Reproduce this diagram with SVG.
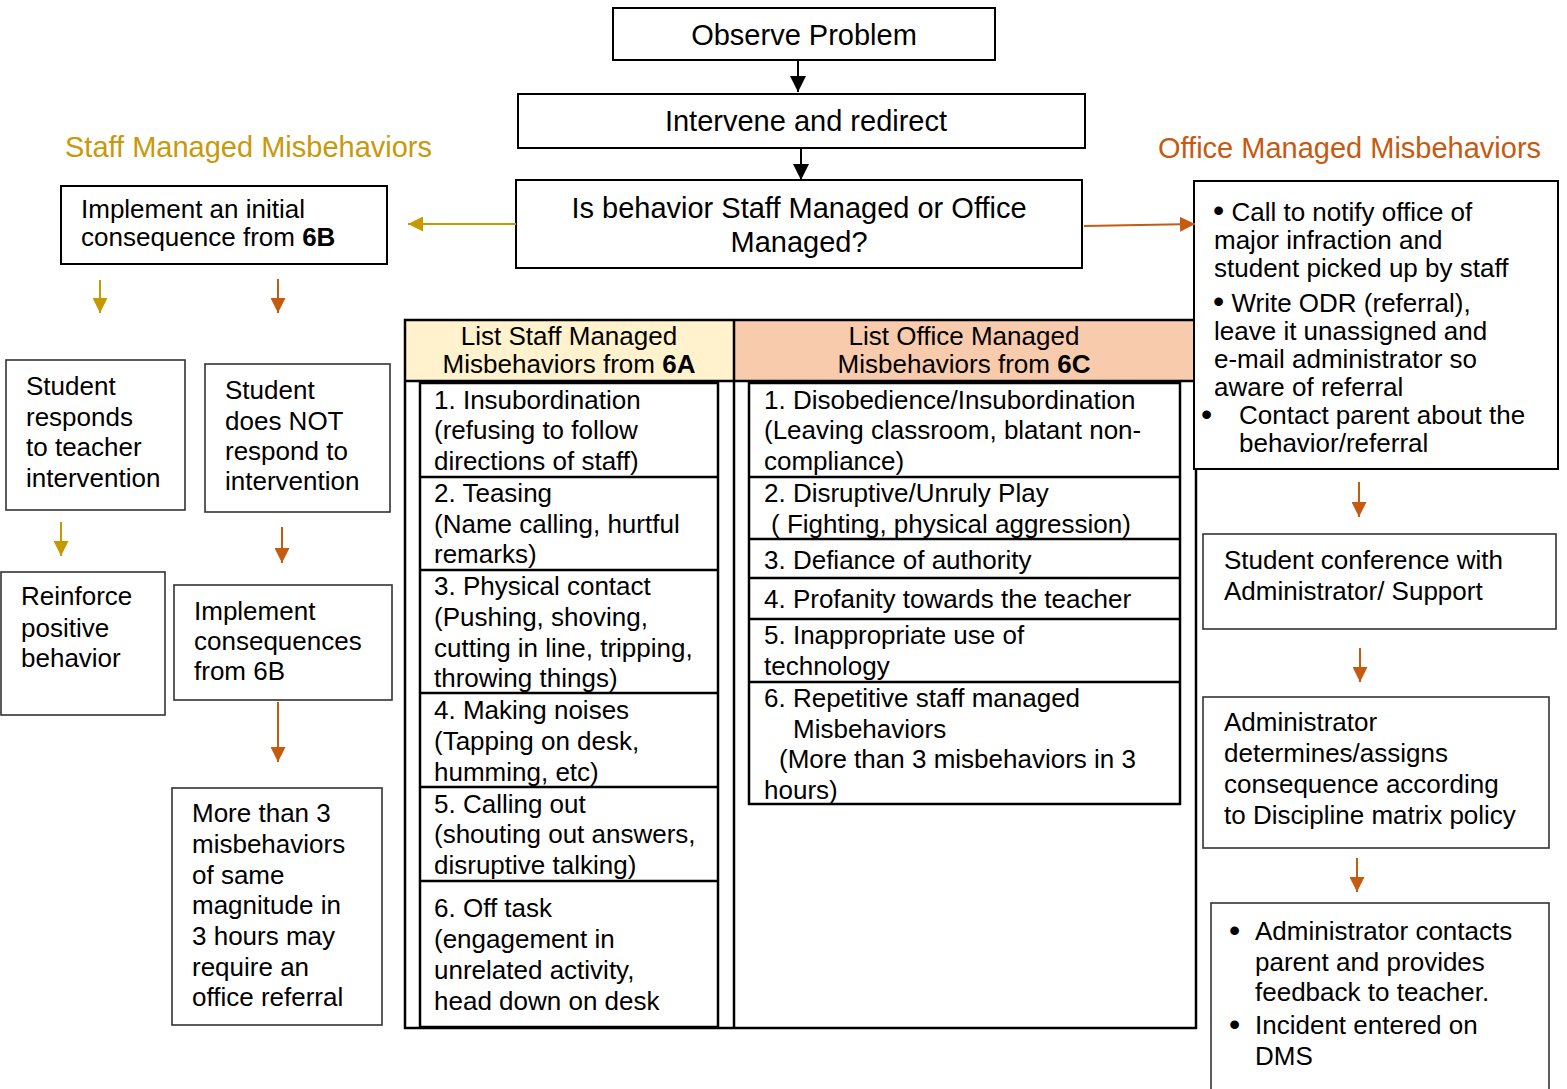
<svg xmlns="http://www.w3.org/2000/svg" width="1567" height="1089" viewBox="0 0 1567 1089">
<style>
text{font-family:"Liberation Sans",Arial,sans-serif;fill:#000;}
.t29{font-size:29px;}
.t26{font-size:26px;}
.mid{text-anchor:middle;}
.b{font-weight:bold;}
.bul{font-size:32px;}
.box{fill:#fff;stroke:#000;stroke-width:2;}
.sbox{fill:#fff;stroke:#333;stroke-width:1.6;}
.tl{fill:none;stroke:#000;stroke-width:2.5;}
.gold{stroke:#C49A00;stroke-width:2;fill:none;}
.orng{stroke:#C55A11;stroke-width:2;fill:none;}
.blk{stroke:#000;stroke-width:2;fill:none;}
</style>
<defs>
<marker id="mb" viewBox="0 0 14 14" refX="14" refY="7" markerWidth="16" markerHeight="16" markerUnits="userSpaceOnUse" orient="auto"><path d="M0,0L14,7L0,14z" fill="#000"/></marker>
<marker id="mg" viewBox="0 0 14 14" refX="14" refY="7" markerWidth="15" markerHeight="15" markerUnits="userSpaceOnUse" orient="auto"><path d="M0,0L14,7L0,14z" fill="#C49A00"/></marker>
<marker id="mo" viewBox="0 0 14 14" refX="14" refY="7" markerWidth="15" markerHeight="15" markerUnits="userSpaceOnUse" orient="auto"><path d="M0,0L14,7L0,14z" fill="#C55A11"/></marker>
</defs>

<text x="65" y="157" class="t29" style="fill:#C8990A">Staff Managed Misbehaviors</text>
<text x="1158" y="158" class="t29" style="fill:#C55A11">Office Managed Misbehaviors</text>

<g id="observe">
<rect class="box" x="613" y="8" width="382" height="52"/>
<text class="t29 mid" x="804" y="45">Observe Problem</text>
</g>
<g id="intervene">
<rect class="box" x="518" y="94" width="567" height="54"/>
<text class="t29 mid" x="806" y="131">Intervene and redirect</text>
</g>
<g id="decision">
<rect class="box" x="516" y="180" width="566" height="88"/>
<text class="t29 mid" x="799" y="218">Is behavior Staff Managed or Office</text>
<text class="t29 mid" x="799" y="252">Managed?</text>
</g>

<g id="initial">
<rect class="box" x="61" y="186" width="326" height="78"/>
<text class="t26" x="81" y="218">Implement an initial</text>
<text class="t26" x="81" y="246">consequence from <tspan class="b">6B</tspan></text>
</g>
<g id="responds">
<rect class="sbox" x="6" y="360" width="179" height="150"/>
<text class="t26" x="26" y="395">Student</text>
<text class="t26" x="26" y="426">responds</text>
<text class="t26" x="26" y="456">to teacher</text>
<text class="t26" x="26" y="487">intervention</text>
</g>
<g id="notrespond">
<rect class="sbox" x="205" y="364" width="185" height="148"/>
<text class="t26" x="225" y="399">Student</text>
<text class="t26" x="225" y="430">does NOT</text>
<text class="t26" x="225" y="460">respond to</text>
<text class="t26" x="225" y="490">intervention</text>
</g>
<g id="reinforce">
<rect class="sbox" x="1" y="572" width="164" height="143"/>
<text class="t26" x="21" y="605">Reinforce</text>
<text class="t26" x="21" y="637">positive</text>
<text class="t26" x="21" y="667">behavior</text>
</g>
<g id="implement">
<rect class="sbox" x="174" y="585" width="218" height="115"/>
<text class="t26" x="194" y="620">Implement</text>
<text class="t26" x="194" y="650">consequences</text>
<text class="t26" x="194" y="680">from 6B</text>
</g>
<g id="morethan">
<rect class="sbox" x="172" y="788" width="210" height="237"/>
<text class="t26" x="192" y="822">More than 3</text>
<text class="t26" x="192" y="853">misbehaviors</text>
<text class="t26" x="192" y="884">of same</text>
<text class="t26" x="192" y="914">magnitude in</text>
<text class="t26" x="192" y="945">3 hours may</text>
<text class="t26" x="192" y="976">require an</text>
<text class="t26" x="192" y="1006">office referral</text>
</g>

<g id="table">
<rect x="405" y="320" width="329" height="61" fill="#FFF2CC"/>
<rect x="734" y="320" width="461" height="61" fill="#F8CBAD"/>
<rect class="tl" x="405" y="320" width="791" height="708"/>
<line class="tl" x1="734" y1="320" x2="734" y2="1028"/>
<line class="tl" x1="405" y1="381" x2="1196" y2="381"/>
<text class="t26 mid" x="569" y="345">List Staff Managed</text>
<text class="t26 mid" x="569" y="373">Misbehaviors from <tspan class="b">6A</tspan></text>
<text class="t26 mid" x="964" y="345">List Office Managed</text>
<text class="t26 mid" x="964" y="373">Misbehaviors from <tspan class="b">6C</tspan></text>

<rect class="tl" x="420" y="383" width="298" height="644"/>
<line class="tl" x1="420" y1="477" x2="718" y2="477"/>
<line class="tl" x1="420" y1="570" x2="718" y2="570"/>
<line class="tl" x1="420" y1="693" x2="718" y2="693"/>
<line class="tl" x1="420" y1="787" x2="718" y2="787"/>
<line class="tl" x1="420" y1="881" x2="718" y2="881"/>

<text class="t26" x="434" y="409">1. Insubordination</text>
<text class="t26" x="434" y="439">(refusing to follow</text>
<text class="t26" x="434" y="470">directions of staff)</text>
<text class="t26" x="434" y="502">2. Teasing</text>
<text class="t26" x="434" y="533">(Name calling, hurtful</text>
<text class="t26" x="434" y="563">remarks)</text>
<text class="t26" x="434" y="595">3. Physical contact</text>
<text class="t26" x="434" y="626">(Pushing, shoving,</text>
<text class="t26" x="434" y="657">cutting in line, tripping,</text>
<text class="t26" x="434" y="687">throwing things)</text>
<text class="t26" x="434" y="719">4. Making noises</text>
<text class="t26" x="434" y="750">(Tapping on desk,</text>
<text class="t26" x="434" y="781">humming, etc)</text>
<text class="t26" x="434" y="813">5. Calling out</text>
<text class="t26" x="434" y="843">(shouting out answers,</text>
<text class="t26" x="434" y="874">disruptive talking)</text>
<text class="t26" x="434" y="917">6. Off task</text>
<text class="t26" x="434" y="948">(engagement in</text>
<text class="t26" x="434" y="979">unrelated activity,</text>
<text class="t26" x="434" y="1010">head down on desk</text>

<rect class="tl" x="749" y="383" width="431" height="421"/>
<line class="tl" x1="749" y1="477" x2="1180" y2="477"/>
<line class="tl" x1="749" y1="539" x2="1180" y2="539"/>
<line class="tl" x1="749" y1="578" x2="1180" y2="578"/>
<line class="tl" x1="749" y1="619" x2="1180" y2="619"/>
<line class="tl" x1="749" y1="682" x2="1180" y2="682"/>

<text class="t26" x="764" y="409">1. Disobedience/Insubordination</text>
<text class="t26" x="764" y="439">(Leaving classroom, blatant non-</text>
<text class="t26" x="764" y="470">compliance)</text>
<text class="t26" x="764" y="502">2. Disruptive/Unruly Play</text>
<text class="t26" x="771" y="533">( Fighting, physical aggression)</text>
<text class="t26" x="764" y="569">3. Defiance of authority</text>
<text class="t26" x="764" y="608">4. Profanity towards the teacher</text>
<text class="t26" x="764" y="644">5. Inappropriate use of</text>
<text class="t26" x="764" y="675">technology</text>
<text class="t26" x="764" y="707">6. Repetitive staff managed</text>
<text class="t26" x="793" y="738">Misbehaviors</text>
<text class="t26" x="779" y="768">(More than 3 misbehaviors in 3</text>
<text class="t26" x="764" y="799">hours)</text>
</g>

<g id="office1">
<rect class="box" x="1194" y="181" width="364" height="288"/>
<text class="t26" x="1213" y="221"><tspan class="bul">•</tspan> Call to notify office of</text>
<text class="t26" x="1214" y="249">major infraction and</text>
<text class="t26" x="1214" y="277">student picked up by staff</text>
<text class="t26" x="1213" y="312"><tspan class="bul">•</tspan> Write ODR (referral),</text>
<text class="t26" x="1214" y="340">leave it unassigned and</text>
<text class="t26" x="1214" y="368">e-mail administrator so</text>
<text class="t26" x="1214" y="396">aware of referral</text>
<text class="t26" x="1201" y="425"><tspan class="bul">•</tspan></text>
<text class="t26" x="1239" y="424">Contact parent about the</text>
<text class="t26" x="1239" y="452">behavior/referral</text>
</g>
<g id="conference">
<rect class="sbox" x="1203" y="534" width="353" height="95"/>
<text class="t26" x="1224" y="569">Student conference with</text>
<text class="t26" x="1224" y="600">Administrator/ Support</text>
</g>
<g id="determines">
<rect class="sbox" x="1203" y="697" width="346" height="151"/>
<text class="t26" x="1224" y="731">Administrator</text>
<text class="t26" x="1224" y="762">determines/assigns</text>
<text class="t26" x="1224" y="793">consequence according</text>
<text class="t26" x="1224" y="824">to Discipline matrix policy</text>
</g>
<g id="contacts">
<rect class="sbox" x="1211" y="903" width="338" height="200"/>
<text class="t26" x="1229" y="941"><tspan class="bul">•</tspan></text>
<text class="t26" x="1255" y="940">Administrator contacts</text>
<text class="t26" x="1255" y="971">parent and provides</text>
<text class="t26" x="1255" y="1001">feedback to teacher.</text>
<text class="t26" x="1229" y="1035"><tspan class="bul">•</tspan></text>
<text class="t26" x="1255" y="1034">Incident entered on</text>
<text class="t26" x="1255" y="1065">DMS</text>
</g>

<g id="connectors">
<line class="blk" x1="798" y1="60" x2="798" y2="92" marker-end="url(#mb)"/>
<line class="blk" x1="801" y1="148" x2="801" y2="180" marker-end="url(#mb)"/>
<line class="gold" x1="516" y1="224" x2="408" y2="224" marker-end="url(#mg)"/>
<line class="orng" x1="1084" y1="226" x2="1195" y2="224" marker-end="url(#mo)"/>
<line class="gold" x1="100" y1="280" x2="100" y2="313" marker-end="url(#mg)"/>
<line class="orng" x1="278" y1="279" x2="278" y2="313" marker-end="url(#mo)"/>
<line class="gold" x1="61" y1="522" x2="61" y2="556" marker-end="url(#mg)"/>
<line class="orng" x1="282" y1="527" x2="282" y2="563" marker-end="url(#mo)"/>
<line class="orng" x1="278" y1="702" x2="278" y2="762" marker-end="url(#mo)"/>
<line class="orng" x1="1359" y1="482" x2="1359" y2="517" marker-end="url(#mo)"/>
<line class="orng" x1="1360" y1="648" x2="1360" y2="682" marker-end="url(#mo)"/>
<line class="orng" x1="1357" y1="858" x2="1357" y2="892" marker-end="url(#mo)"/>
</g>
</svg>
